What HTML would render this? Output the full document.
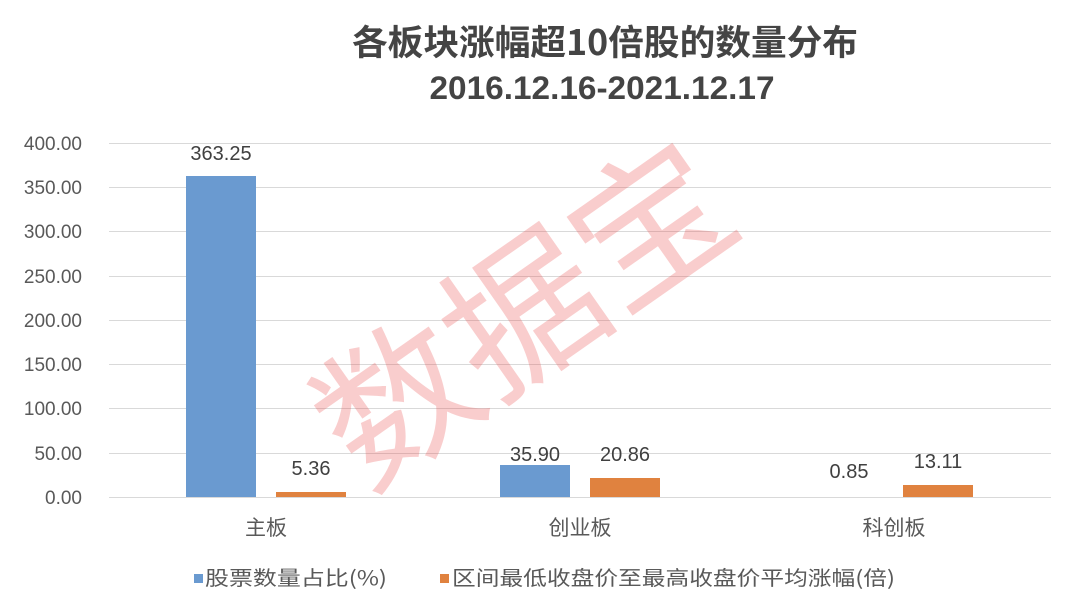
<!DOCTYPE html>
<html><head><meta charset="utf-8"><style>body{margin:0;background:#fff}svg{display:block}</style></head>
<body>
<svg width="1080" height="615" xmlns="http://www.w3.org/2000/svg" font-family="'Liberation Sans','Noto Sans CJK SC',sans-serif">
<rect width="1080" height="615" fill="#fff"/>
<text x="605" y="55" text-anchor="middle" font-size="35" font-weight="bold" fill="#444" textLength="506" lengthAdjust="spacingAndGlyphs" font-family="'Noto Sans CJK SC',sans-serif">各板块涨幅超10倍股的数量分布</text>
<text x="602" y="99" text-anchor="middle" font-size="32" font-weight="bold" fill="#444" textLength="345" lengthAdjust="spacingAndGlyphs">2016.12.16-2021.12.17</text>
<g stroke="#d9d9d9" stroke-width="1">
<line x1="109" x2="1051" y1="143.5" y2="143.5"/><line x1="109" x2="1051" y1="187.5" y2="187.5"/>
<line x1="109" x2="1051" y1="231.5" y2="231.5"/><line x1="109" x2="1051" y1="276.5" y2="276.5"/>
<line x1="109" x2="1051" y1="320.5" y2="320.5"/><line x1="109" x2="1051" y1="364.5" y2="364.5"/>
<line x1="109" x2="1051" y1="408.5" y2="408.5"/><line x1="109" x2="1051" y1="453.5" y2="453.5"/>
<line x1="109" x2="1051" y1="497.5" y2="497.5"/>
</g>
<g font-size="19" fill="#595959" text-anchor="end">
<text x="82" y="150">400.00</text><text x="82" y="194">350.00</text><text x="82" y="238">300.00</text>
<text x="82" y="283">250.00</text><text x="82" y="327">200.00</text><text x="82" y="371">150.00</text>
<text x="82" y="415">100.00</text><text x="82" y="460">50.00</text><text x="82" y="504">0.00</text>
</g>
<rect x="186" y="176" width="70" height="321" fill="#6a9ad0"/>
<rect x="276" y="492" width="70" height="5" fill="#e0823f"/>
<rect x="500" y="465" width="70" height="32" fill="#6a9ad0"/>
<rect x="590" y="478" width="70" height="19" fill="#e0823f"/>
<rect x="903" y="485" width="70" height="12" fill="#e0823f"/>
<g font-size="20" fill="#404040" text-anchor="middle">
<text x="221" y="160">363.25</text><text x="311" y="475">5.36</text>
<text x="535" y="461">35.90</text><text x="625" y="461">20.86</text>
<text x="849" y="478">0.85</text><text x="938" y="468">13.11</text>
</g>
<g font-size="21" fill="#595959" text-anchor="middle" font-family="'Noto Sans CJK SC',sans-serif">
<text x="266" y="535">主板</text><text x="580" y="535">创业板</text><text x="894" y="535">科创板</text>
</g>
<rect x="194" y="574" width="9" height="9" fill="#6a9ad0"/>
<text x="205" y="585" font-size="20" fill="#595959" textLength="182" lengthAdjust="spacingAndGlyphs" font-family="'Noto Sans CJK SC',sans-serif">股票数量占比(%)</text>
<rect x="440" y="574" width="9" height="9" fill="#e0823f"/>
<text x="452" y="585" font-size="20" fill="#595959" textLength="443" lengthAdjust="spacingAndGlyphs" font-family="'Noto Sans CJK SC',sans-serif">区间最低收盘价至最高收盘价平均涨幅(倍)</text>
<text x="532" y="325" text-anchor="middle" dominant-baseline="middle" font-size="155" fill="#e84a4a" fill-opacity="0.28" transform="rotate(-35 532 325)" font-family="'Noto Sans CJK SC',sans-serif">数据宝</text>
</svg>
</body></html>
